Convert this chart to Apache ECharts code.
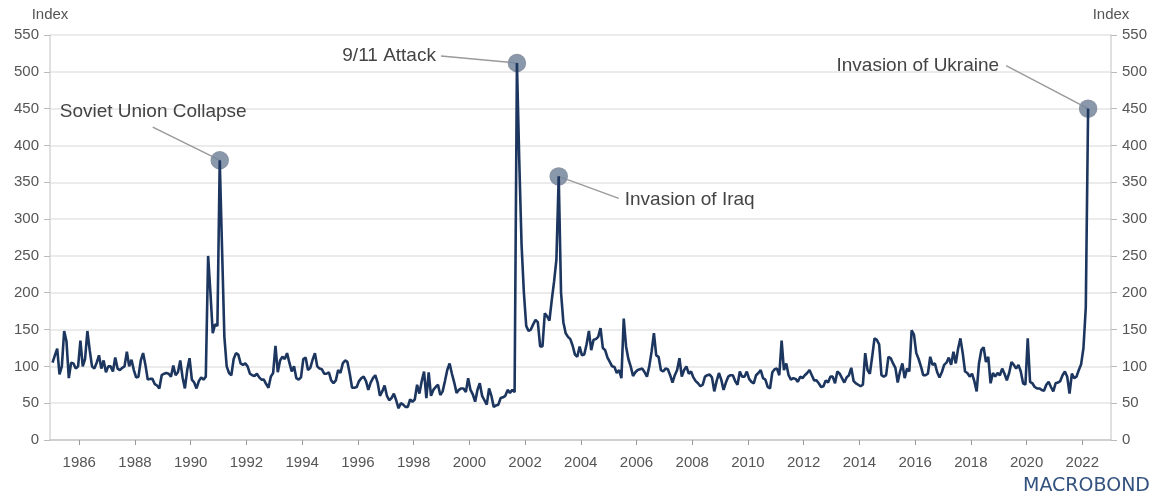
<!DOCTYPE html>
<html>
<head>
<meta charset="utf-8">
<title>Geopolitical risk index</title>
<script src="https://cdn.jsdelivr.net/npm/echarts@6/dist/echarts.min.js"></script>
<style>
  html, body { margin: 0; padding: 0; background: #fff; }
  #chart { width: 1158px; height: 500px; }
</style>
</head>
<body>
<div id="chart"></div>
<script>
// monthly index values, Jan 1985 .. Mar 2022
const startYear = 1985
const gprMonthly = [
  105, 115, 124, 89, 100, 148, 134, 84, 105, 104, 97, 100, // 1985
  135, 100, 110, 148, 122, 100, 97, 105, 115, 97, 108, 92, // 1986
  100, 100, 93, 112, 97, 95, 98, 100, 120, 100, 109, 95, // 1987
  85, 86, 108, 118, 102, 82, 83, 83, 76, 74, 70, 88, // 1988
  90, 91, 90, 86, 101, 88, 92, 108, 85, 70, 95, 111, // 1989
  82, 78, 70, 80, 85, 82, 86, 250, 200, 145, 157, 155, // 1990
  380, 260, 140, 100, 91, 88, 110, 118, 116, 104, 102, 104, // 1991
  100, 90, 88, 87, 90, 85, 82, 82, 76, 71, 86, 91, // 1992
  128, 92, 108, 113, 110, 118, 105, 93, 100, 84, 82, 85, // 1993
  110, 112, 95, 98, 109, 118, 100, 97, 96, 90, 90, 92, // 1994
  81, 77, 81, 95, 91, 104, 108, 106, 90, 71, 71, 72, // 1995
  80, 84, 86, 80, 68, 78, 84, 88, 78, 60, 66, 74, // 1996
  60, 54, 57, 63, 54, 43, 50, 48, 45, 45, 55, 52, // 1997
  55, 75, 63, 80, 93, 57, 92, 60, 68, 72, 75, 61, // 1998
  66, 80, 95, 104, 90, 78, 64, 68, 70, 70, 65, 84, // 1999
  68, 62, 52, 68, 77, 60, 54, 48, 70, 60, 45, 47, // 2000
  48, 57, 58, 60, 68, 64, 68, 65, 512, 380, 265, 200, // 2001
  155, 148, 150, 157, 163, 160, 127, 127, 172, 168, 162, 190, // 2002
  215, 245, 358, 200, 160, 145, 140, 137, 128, 116, 113, 127, // 2003
  115, 116, 130, 148, 122, 136, 137, 140, 152, 125, 122, 112, // 2004
  106, 100, 99, 91, 95, 84, 165, 127, 110, 100, 87, 92, // 2005
  95, 96, 97, 92, 86, 100, 120, 145, 115, 113, 95, 93, // 2006
  97, 96, 88, 78, 88, 95, 111, 86, 95, 100, 90, 93, // 2007
  85, 80, 77, 73, 75, 86, 88, 89, 85, 66, 80, 91, // 2008
  82, 68, 78, 86, 88, 88, 80, 75, 93, 86, 86, 93, // 2009
  83, 79, 77, 88, 91, 95, 84, 82, 72, 70, 92, 96, // 2010
  97, 88, 135, 95, 104, 88, 82, 84, 83, 79, 86, 84, // 2011
  88, 91, 95, 88, 81, 81, 77, 72, 73, 81, 78, 86, // 2012
  86, 77, 93, 90, 84, 78, 85, 88, 98, 80, 77, 75, // 2013
  73, 75, 118, 95, 90, 113, 138, 136, 130, 88, 86, 88, // 2014
  113, 111, 104, 98, 78, 93, 104, 84, 97, 93, 149, 143, // 2015
  118, 110, 100, 88, 88, 90, 113, 102, 104, 92, 85, 92, // 2016
  102, 105, 112, 102, 120, 104, 124, 138, 118, 93, 91, 86, // 2017
  90, 80, 66, 104, 122, 126, 106, 113, 77, 91, 86, 91, // 2018
  88, 97, 90, 81, 91, 106, 102, 97, 102, 93, 77, 75, // 2019
  138, 79, 77, 72, 70, 70, 68, 67, 75, 79, 72, 66, // 2020
  77, 78, 80, 88, 93, 86, 63, 90, 84, 86, 95, 103, // 2021
  125, 180, 450 // 2022
]

// x-axis ticks (years) and y-axis ticks
const tickYears = [1986, 1988, 1990, 1992, 1994, 1996, 1998, 2000, 2002, 2004,
  2006, 2008, 2010, 2012, 2014, 2016, 2018, 2020, 2022]
const yTicks = [0, 50, 100, 150, 200, 250, 300, 350, 400, 450, 500, 550]

// annotated events: label, year, month (1-12)
const eventNames = ['Soviet Union Collapse', '9/11 Attack', 'Invasion of Iraq', 'Invasion of Ukraine']
const eventYears = [1991, 2001, 2003, 2022]
const eventMonths = [1, 9, 3, 3]

// 系列数据: 月中位置
function monthPos(year, month) {
  return year + (month - 0.5) / 12
}
const seriesData = gprMonthly.map((v, i) => [
  monthPos(startYear + Math.floor(i / 12), (i % 12) + 1), v
])
const eventPoints = eventNames.map((name, k) => {
  const idx = (eventYears[k] - startYear) * 12 + eventMonths[k] - 1
  return { name, coord: [monthPos(eventYears[k], eventMonths[k]), gprMonthly[idx]] }
})

const labelColor = '#555'
const font = 'Liberation Sans, Arial, sans-serif'

const chart = echarts.init(document.getElementById('chart'))

const yAxisBase = {
  type: 'value',
  min: yTicks[0],
  max: yTicks[yTicks.length - 1],
  interval: yTicks[1] - yTicks[0],
  name: 'Index',
  nameLocation: 'end',
  nameGap: 13,
  nameTextStyle: { color: labelColor, fontSize: 15, fontFamily: font, align: 'center' },
  axisLine: { show: true, lineStyle: { color: '#d6d6d6', width: 1.5 } },
  axisTick: { show: true, length: 6, lineStyle: { color: '#bbb' } },
  axisLabel: { color: labelColor, fontSize: 15, fontFamily: font, margin: 11 }
}

const option = {
  animation: false,
  grid: { left: 50, right: 47, top: 35, bottom: 60 },
  xAxis: {
    type: 'value',
    min: 1984.95,
    max: 2023.03,
    splitLine: { show: false },
    axisLine: { lineStyle: { color: '#c8c8c8', width: 1.5 } },
    axisTick: { show: true, length: 5, customValues: tickYears, lineStyle: { color: '#999' } },
    axisLabel: {
      customValues: tickYears,
      color: labelColor, fontSize: 15, fontFamily: font, margin: 15,
      formatter: v => String(v)
    }
  },
  yAxis: [
    Object.assign({}, yAxisBase, {
      splitLine: { lineStyle: { color: '#e4e4e4', width: 1.5 } }
    }),
    Object.assign({}, yAxisBase, {
      position: 'right',
      splitLine: { show: false }
    })
  ],
  series: [
    {
      name: 'Geopolitical risk',
      type: 'line',
      data: seriesData,
      showSymbol: false,
      symbol: 'none',
      lineStyle: { color: '#1c365f', width: 2.6 },
      z: 3,
      markPoint: {
        z: 1,
        symbol: 'circle',
        symbolSize: 17,
        label: { show: false },
        itemStyle: { color: 'rgba(118,134,158,0.85)', borderColor: '#8a95a5', borderWidth: 1.5 },
        data: eventPoints
      }
    }
  ]
}

chart.setOption(option)

// 标注文字和引线 (相对于标记点的偏移)
const annoLayout = [
  { tx: -160, ty: -48, align: 'left', lx: -67, ly: -33 },
  { tx: -81, ty: -7, align: 'right', lx: -76, ly: -7 },
  { tx: 66, ty: 23, align: 'left', lx: 60, ly: 22 },
  { tx: -89, ty: -43, align: 'right', lx: -82, ly: -43 }
]

const graphics = []
eventPoints.forEach((p, k) => {
  const [px, py] = chart.convertToPixel({ seriesIndex: 0 }, p.coord)
  const a = annoLayout[k]
  graphics.push({
    type: 'line',
    silent: true,
    z: 0,
    shape: { x1: px + a.lx, y1: py + a.ly, x2: px, y2: py },
    style: { stroke: '#9a9a9a', lineWidth: 1.5 }
  })
  graphics.push({
    type: 'text',
    silent: true,
    x: px + a.tx,
    y: py + a.ty,
    style: {
      text: p.name,
      fill: '#444',
      font: '19px ' + font,
      textAlign: a.align,
      textVerticalAlign: 'middle'
    }
  })
})

// Macrobond logo
graphics.push({
  type: 'text',
  silent: true,
  right: 8,
  top: 477,
  style: {
    text: 'MACROBOND',
    fill: '#34527f',
    font: '19px DejaVu Sans, sans-serif'
  }
})

chart.setOption({ graphic: graphics })

window.addEventListener('resize', () => {
  chart.resize()
})
</script>
</body>
</html>
